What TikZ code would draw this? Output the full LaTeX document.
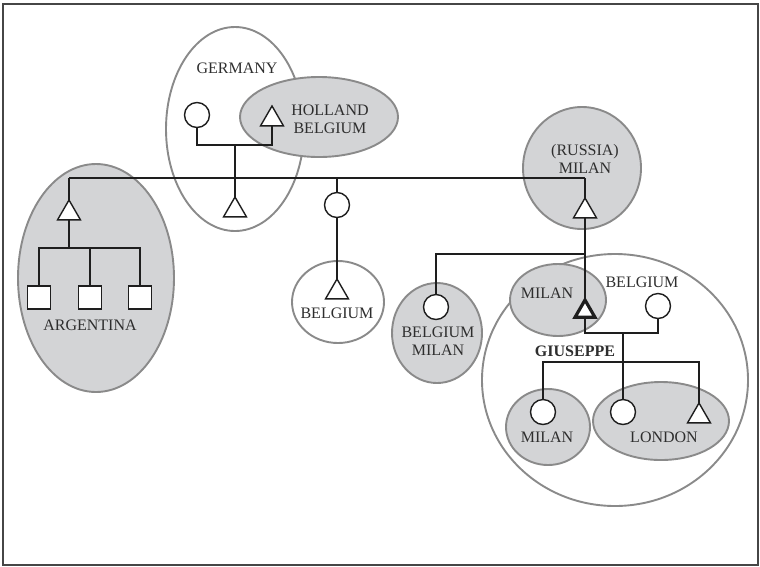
\documentclass[tikz,border=0pt]{standalone}
\usepackage{fontspec}
\setmainfont{Liberation Serif}
\usetikzlibrary{shapes.geometric}
\definecolor{grpfill}{RGB}{211,212,214}
\definecolor{grpline}{RGB}{138,138,138}
\definecolor{pline}{RGB}{30,30,30}
\definecolor{frameline}{RGB}{70,70,70}
\tikzset{
  grp/.style={ellipse, draw=grpline, line width=1.9pt, inner sep=0pt, outer sep=0pt},
  grpf/.style={grp, fill=grpfill},
  fem/.style={circle, draw=pline, fill=white, line width=1.4pt, minimum size=25pt, inner sep=0pt, outer sep=0pt},
  mal/.style={regular polygon, regular polygon sides=3, draw=pline, fill=white, line width=1.4pt, minimum size=26.5pt, inner sep=0pt, outer sep=0pt, anchor=north},
  ego/.style={mal, line width=3.2pt, minimum size=23pt},
  sqbox/.style={rectangle, draw=pline, fill=white, line width=1.4pt, minimum size=23pt, inner sep=0pt, outer sep=0pt},
  pl/.style={draw=pline, line width=1.4pt},
  lbl/.style={font=\fontsize{16}{18}\selectfont, align=center, inner sep=0pt, text=black!82},
}
\begin{document}
\begin{tikzpicture}[x=1pt, y=-1pt]
\useasboundingbox (0,0) rectangle (760,566);
\draw[frameline, line width=1.2pt] (3,4) rectangle (758,565);
% open groups
\node[grp, minimum width=138pt, minimum height=204pt] (eGer) at (235,129) {};
\node[grp, minimum width=92pt, minimum height=82pt] (eBel) at (338,302) {};
\node[grp, minimum width=266pt, minimum height=252pt] (eBig) at (615,380) {};
% filled groups
\node[grpf, minimum width=158pt, minimum height=80pt] (eHol) at (319,117) {};
\node[grpf, minimum width=156pt, minimum height=228pt] (eArg) at (96,278) {};
\node[grpf, minimum width=118pt, minimum height=122pt] (eRus) at (582,168) {};
\node[grpf, minimum width=90pt, minimum height=100pt] (eBM) at (437,333) {};
\node[grpf, minimum width=96pt, minimum height=72pt] (eMil) at (558,300) {};
\node[grpf, minimum width=84pt, minimum height=76pt] (eMil2) at (548,427) {};
\node[grpf, minimum width=136pt, minimum height=78pt] (eLon) at (661,421) {};
% symbols
\node[mal] (a0) at (69,200) {};
\node[sqbox] (s1) at (39,297.5) {};
\node[sqbox] (s2) at (90,297.5) {};
\node[sqbox] (s3) at (140,297.5) {};
\node[fem] (gm) at (197,115) {};
\node[mal] (gf) at (272,106) {};
\node[mal] (gc) at (235,197) {};
\node[fem] (c1) at (337,205) {};
\node[mal] (b1) at (337,279) {};
\node[mal] (r1) at (585,198) {};
\node[fem] (bm) at (436,307) {};
\node[ego] (gi) at (585,300) {};
\node[fem] (wf) at (658,306) {};
\node[fem] (k1) at (543,412) {};
\node[fem] (k2) at (623,412) {};
\node[mal] (k3) at (699,403) {};
% coordinates
\coordinate (m0) at (69,178);
\coordinate (m1) at (585,178);
\coordinate (ag) at (69,248);
\coordinate (gmar) at (235,145);
\coordinate (rs) at (585,254);
\coordinate (gmr) at (623,333);
\coordinate (ks) at (623,362);
% lines
\draw[pl] (m0) -- (m1);
\draw[pl] (m0) -- (a0.north);
\draw[pl] (a0.south) -- (ag);
\draw[pl] (s1.north) |- (ag) -| (s3.north);
\draw[pl] (s2.north) -- (s2.north |- ag);
\draw[pl] (gm.south) |- (gmar) -| (gf.south);
\draw[pl] (gmar) -- (gc.north);
\draw[pl] (c1.north) -- (c1.north |- m0);
\draw[pl] (c1.south) -- (b1.north);
\draw[pl] (m1) -- (r1.north);
\draw[pl] (r1.south) -- (gi.north);
\draw[pl] (bm.north) |- (rs);
\draw[pl] (gi.south) |- (gmr) -| (wf.south);
\draw[pl] (gmr) -- (k2.north);
\draw[pl] (k1.north) |- (ks) -| (k3.north);
% labels
\node[lbl] (tGer) at (237,68) {GERMANY};
\node[lbl] (tHol) at (330,119) {HOLLAND\\BELGIUM};
\node[lbl] (tRus) at (585,159) {(RUSSIA)\\MILAN};
\node[lbl] (tArg) at (90,325) {ARGENTINA};
\node[lbl] (tBel) at (337,313) {BELGIUM};
\node[lbl] (tBM) at (438,341) {BELGIUM\\MILAN};
\node[lbl] (tMil) at (547,293) {MILAN};
\node[lbl] (tBel2) at (642,282) {BELGIUM};
\node[lbl, font=\fontsize{16}{18}\selectfont\bfseries] (tGiu) at (575,351) {GIUSEPPE};
\node[lbl] (tMil2) at (547,437) {MILAN};
\node[lbl] (tLon) at (664,437) {LONDON};
\end{tikzpicture}
\end{document}
